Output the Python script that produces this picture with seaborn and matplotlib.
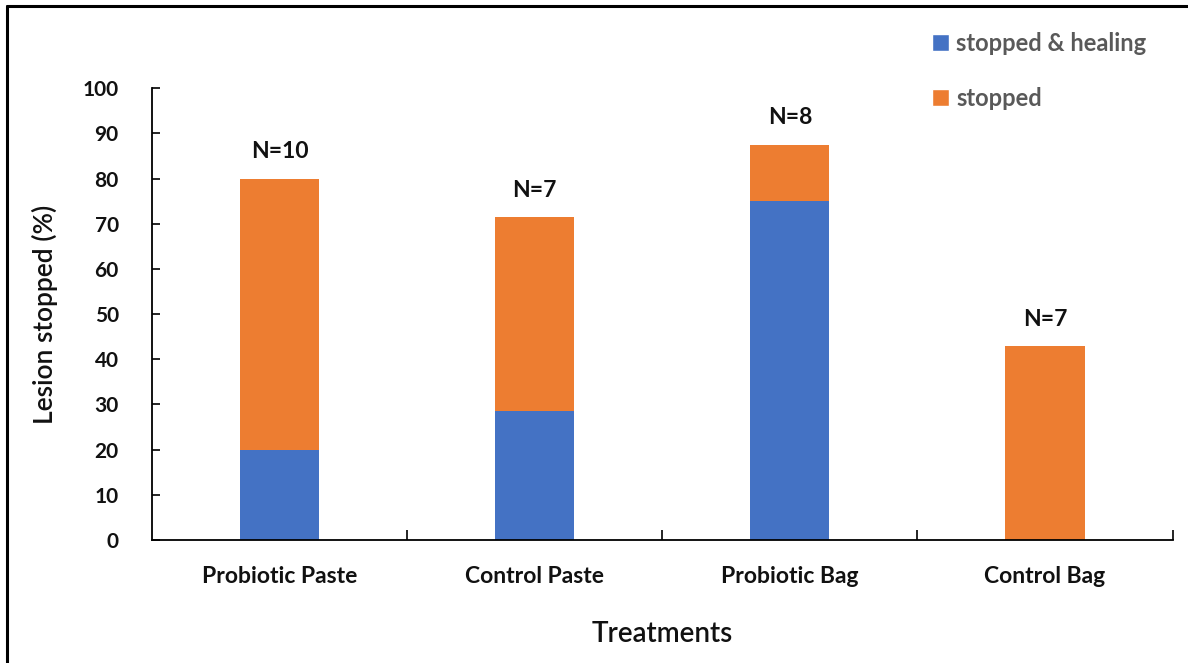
import matplotlib
matplotlib.use("Agg")
import matplotlib.pyplot as plt
from matplotlib.lines import Line2D
from matplotlib.patches import Patch
import seaborn as sns
import pandas as pd

# Treatment outcomes (% of lesions)
treatments = ["Probiotic Paste", "Control Paste", "Probiotic Bag", "Control Bag"]
stopped_healing = [20.0, 28.57, 75.0, 0.0]
stopped_total = [80.0, 71.43, 87.5, 42.86]
n_labels = ["N=10", "N=7", "N=8", "N=7"]
y_ticks = [0, 10, 20, 30, 40, 50, 60, 70, 80, 90, 100]

BLUE = "#4472C4"
ORANGE = "#ED7D31"

sns.set_theme(style="white")
plt.rcParams["font.family"] = ["Lato", "DejaVu Sans"]

df = pd.DataFrame({
    "treatment": treatments,
    "healing": stopped_healing,
    "total": stopped_total,
})

fig = plt.figure(figsize=(11.88, 6.63), dpi=100)
ax = fig.add_axes([0.128, 0.1855, 0.859, 0.6815])

# stacked bars: full height in orange, healing share in blue on top of it
sns.barplot(data=df, x="treatment", y="total", color=ORANGE, width=0.31,
            saturation=1, ax=ax)
sns.barplot(data=df, x="treatment", y="healing", color=BLUE, width=0.31,
            saturation=1, ax=ax)
for p in ax.patches:
    p.set_edgecolor("none")

for i, (tot, lab) in enumerate(zip(stopped_total, n_labels)):
    ax.text(i, tot + 3.6, lab, ha="center", va="bottom", fontsize=16.5,
            fontweight="bold", color="#111111")

ax.set_xlim(-0.5, 3.5)
ax.set_ylim(0, 100)
ax.set_yticks(y_ticks)
ax.set_yticklabels([str(v) for v in y_ticks], fontsize=15, fontweight="bold",
                   color="#111111")
ax.set_xticks(range(len(treatments)))
ax.set_xticklabels(treatments, fontsize=16.5, fontweight="bold",
                   color="#111111")

# category-boundary ticks on the x axis
ax.set_xticks([0.5, 1.5, 2.5, 3.5], minor=True)
ax.tick_params(axis="x", which="major", length=0, pad=19)
ax.tick_params(axis="x", which="minor", direction="in", length=7, width=1.2,
               color="black", bottom=True)
ax.tick_params(axis="y", direction="in", length=6, width=1.2, color="black",
               left=True, pad=24)

ax.set_xlabel("Treatments", fontsize=20, fontweight="semibold", labelpad=24,
              color="#111111")
ax.set_ylabel("Lesion stopped (%)", fontsize=19, fontweight="semibold",
              labelpad=18, color="#111111")

for side in ["top", "right"]:
    ax.spines[side].set_visible(False)
for side in ["left", "bottom"]:
    ax.spines[side].set_color("black")
    ax.spines[side].set_linewidth(1.3)

handles = [Patch(facecolor=BLUE, label="stopped & healing"),
           Patch(facecolor=ORANGE, label="stopped")]
leg = fig.legend(handles=handles, loc="upper left",
                 bbox_to_anchor=(0.767, 0.984), frameon=False,
                 handlelength=0.7, handleheight=0.7, handletextpad=0.3,
                 labelspacing=1.35, prop={"size": 17, "weight": "bold"})
for t in leg.get_texts():
    t.set_color("#595959")

# frame lines along the top and left edges of the figure
fig.add_artist(Line2D([0.0055, 1.0], [0.9905, 0.9905], transform=fig.transFigure,
                      color="black", linewidth=2.2))
fig.add_artist(Line2D([0.0055, 0.0055], [0.0, 0.9905], transform=fig.transFigure,
                      color="black", linewidth=2.2))

fig.savefig("out.png", dpi=100)
